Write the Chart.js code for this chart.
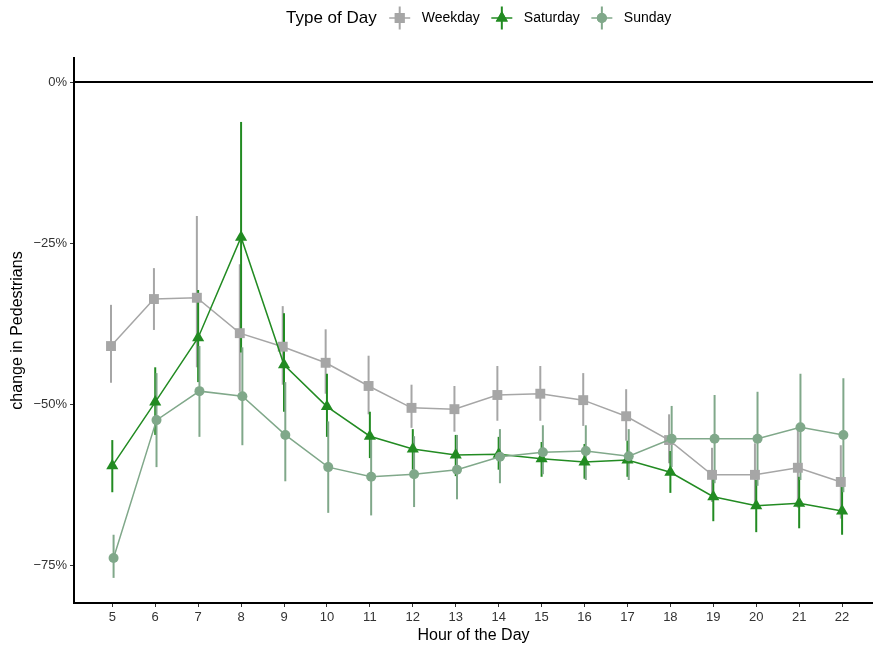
<!DOCTYPE html>
<html>
   <head>
      <meta charset="UTF-8">
      <title>Pedestrians by Hour</title>
      <script src="https://cdn.jsdelivr.net/npm/chart.js@4/dist/chart.umd.min.js"></script>
      <style>
         body{margin:0;background:#fff;}
         #wrap{width:873px;height:649px;}
      </style>
   </head>
   <body>
        <div id="wrap"><canvas id="chart" width="873" height="649"></canvas></div>

        <script>
            const hours=[5,6,7,8,9,10,11,12,13,14,15,16,17,18,19,20,21,22];
            const yTicks=[-75,-50,-25,0];

            const weekday=[-41.0,-33.7,-33.5,-39.0,-41.1,-43.6,-47.2,-50.6,-50.8,-48.6,-48.4,-49.4,-51.9,-55.6,-61.0,-61.0,-59.9,-62.1];
            const weekdayLow=[-46.7,-38.5,-44.3,-48.1,-47.0,-48.4,-51.6,-53.7,-54.3,-52.6,-52.6,-53.4,-55.7,-59.2,-65.2,-66.0,-66.1,-67.8];
            const weekdayHigh=[-34.6,-28.9,-20.8,-28.3,-34.8,-38.4,-42.5,-47.0,-47.2,-44.1,-44.1,-45.2,-47.7,-51.6,-56.8,-56.1,-53.7,-56.4];

            const saturday=[-59.6,-49.7,-39.7,-24.1,-43.9,-50.4,-55.0,-57.0,-57.9,-57.8,-58.5,-59.0,-58.7,-60.6,-64.4,-65.8,-65.4,-66.6];
            const saturdayLow=[-63.7,-54.8,-46.6,-42.0,-51.2,-55.1,-58.4,-60.2,-61.2,-60.2,-61.3,-61.6,-61.3,-63.8,-68.2,-69.9,-69.3,-70.3];
            const saturdayHigh=[-55.6,-44.3,-32.3,-6.2,-35.9,-45.3,-51.2,-53.9,-54.8,-55.1,-55.9,-56.2,-55.7,-57.3,-60.6,-61.8,-61.3,-62.9];

            const sunday=[-73.9,-52.5,-48.0,-48.8,-54.8,-59.8,-61.3,-60.9,-60.2,-58.2,-57.5,-57.3,-58.1,-55.4,-55.4,-55.4,-53.6,-54.8];
            const sundayLow=[-77.0,-59.8,-55.1,-56.4,-62.0,-66.9,-67.3,-66.0,-64.8,-62.3,-60.9,-61.8,-61.8,-59.8,-62.3,-62.7,-61.8,-63.7];
            const sundayHigh=[-70.3,-45.2,-41.0,-41.2,-46.6,-52.7,-55.4,-55.0,-54.8,-53.9,-53.3,-53.3,-53.9,-50.3,-48.6,-48.1,-45.3,-46.0];

            const FONT='"Liberation Sans", Arial, Helvetica, sans-serif';
            const GRAY='#a6a6a6', GREEN='#228b22', SAGE='#80a88a';

            // small horizontal dodge so the three groups don't sit exactly on top of each other
            function series(values, low, high, dodge){
               return hours.map((h,i)=>({x:h+dodge, y:values[i], low:low[i], high:high[i]}));
            }

            function makeDataset(label, data, color, pointStyle, radius, order){
               return {
                  label, data, order,
                  borderColor:color, backgroundColor:color,
                  pointBackgroundColor:color, pointBorderColor:color,
                  borderWidth:1.5, pointStyle, pointRadius:radius, pointBorderWidth:0,
                  pointHoverRadius:radius, tension:0, clip:false
               };
            }

            const datasets=[
               makeDataset('Weekday', series(weekday,weekdayLow,weekdayHigh,-0.03), GRAY, 'rect', 7, 3),
               makeDataset('Saturday', series(saturday,saturdayLow,saturdayHigh,0), GREEN, 'triangle', 7, 2),
               makeDataset('Sunday', series(sunday,sundayLow,sundayHigh,0.03), SAGE, 'circle', 5, 1)
            ];

            // vertical error bars + the 0% reference line, drawn under the lines
            const errorBars={
               id:'errorBars',
               beforeDatasetsDraw(chart){
                  const {ctx, chartArea, scales:{x,y}}=chart;
                  ctx.save();
                  const y0=y.getPixelForValue(0);
                  ctx.strokeStyle='#000';
                  ctx.lineWidth=2;
                  ctx.beginPath();
                  ctx.moveTo(chartArea.left, y0);
                  ctx.lineTo(chartArea.right, y0);
                  ctx.stroke();

                  ctx.lineWidth=2;
                  for(const ds of [...chart.data.datasets].sort((a,b)=>b.order-a.order)){
                     ctx.strokeStyle=ds.borderColor;
                     for(const p of ds.data){
                        const px=x.getPixelForValue(p.x);
                        ctx.beginPath();
                        ctx.moveTo(px, y.getPixelForValue(p.low));
                        ctx.lineTo(px, y.getPixelForValue(p.high));
                        ctx.stroke();
                     }
                  }
                  ctx.restore();
               }
            };

            // ggplot style legend along the top
            const topLegend={
               id:'topLegend',
               afterDraw(chart){
                  const ctx=chart.ctx;
                  const cy=18;
                  ctx.save();
                  ctx.textBaseline='middle';
                  ctx.fillStyle='#000';
                  ctx.font='17px '+FONT;
                  let x=286;
                  ctx.fillText('Type of Day', x, cy);
                  x+=ctx.measureText('Type of Day').width+23;
                  ctx.font='14px '+FONT;
                  const items=[...chart.data.datasets].sort((a,b)=>b.order-a.order);
                  for(const ds of items){
                     ctx.strokeStyle=ds.borderColor;
                     ctx.lineWidth=2;
                     ctx.beginPath();
                     ctx.moveTo(x, cy-11.5); ctx.lineTo(x, cy+11.5);
                     ctx.stroke();
                     ctx.lineWidth=1.5;
                     ctx.beginPath();
                     ctx.moveTo(x-10.5, cy); ctx.lineTo(x+10.5, cy);
                     ctx.stroke();
                     ctx.fillStyle=ds.borderColor;
                     Chart.helpers.drawPoint(ctx, {pointStyle:ds.pointStyle, radius:ds.pointRadius, borderWidth:0}, x, cy);
                     ctx.fill();
                     ctx.fillStyle='#000';
                     ctx.fillText(ds.label, x+22, cy);
                     x+=22+ctx.measureText(ds.label).width+22;
                  }
                  ctx.restore();
               }
            };

            const tickFont={family:FONT, size:13};

            new Chart(document.getElementById('chart'), {
               type:'line',
               data:{datasets},
               options:{
                  responsive:false,
                  animation:false,
                  devicePixelRatio:1,
                  layout:{autoPadding:false, padding:{top:58, left:0, right:0, bottom:0}},
                  plugins:{legend:{display:false}, tooltip:{enabled:false}},
                  scales:{
                     x:{
                        type:'linear',
                        min:4.108, max:22.72,
                        afterBuildTicks:s=>{ s.ticks=hours.map(v=>({value:v})); },
                        afterFit:s=>{ s.height=46; s.paddingLeft=0; s.paddingRight=0; },
                        border:{display:true, color:'#000', width:2},
                        grid:{display:true, drawOnChartArea:false, drawTicks:true, tickLength:4, tickColor:'#333', tickWidth:1},
                        ticks:{font:tickFont, color:'#333', padding:3, maxRotation:0, autoSkip:false},
                        title:{display:true, text:'Hour of the Day', font:{family:FONT, size:16}, color:'#000', padding:{top:4, bottom:4}}
                     },
                     y:{
                        min:-80.9, max:3.73,
                        afterBuildTicks:s=>{ s.ticks=yTicks.map(v=>({value:v})); },
                        afterFit:s=>{ s.width=74; s.paddingTop=0; s.paddingBottom=0; },
                        border:{display:true, color:'#000', width:2},
                        grid:{display:true, drawOnChartArea:false, drawTicks:true, tickLength:4, tickColor:'#333', tickWidth:1},
                        ticks:{font:tickFont, color:'#333', padding:3, callback:v=>(v<0?'\u2212'+(-v):v)+'%'},
                        title:{display:true, text:'change in Pedestrians', font:{family:FONT, size:16}, color:'#000', padding:{top:8, bottom:4}}
                     }
                  }
               },
               plugins:[errorBars, topLegend]
            });
        </script>
   </body>
</html>
